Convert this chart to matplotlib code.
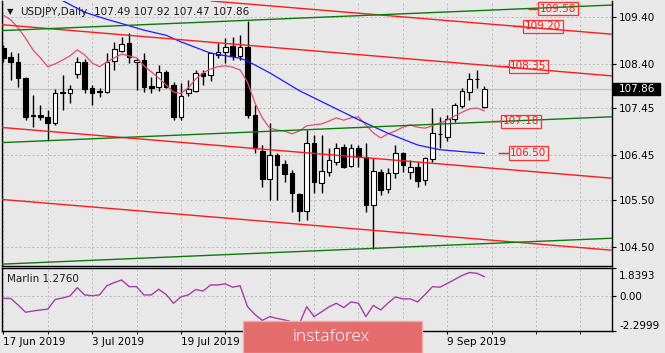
import numpy as np
import matplotlib
matplotlib.use('Agg')
import matplotlib.pyplot as plt
from matplotlib.patches import Rectangle
from matplotlib.transforms import ScaledTranslation, blended_transform_factory

# ── Data ─────────────────────────────────────────────────────
symbol = "USDJPY,Daily"
# labels at bars 36 and 48 sit under the watermark, so they stay blank
date_labels = ['17 Jun 2019', '3 Jul 2019', '19 Jul 2019', '', '', '9 Sep 2019']
date_bars = [0, 12, 24, 36, 48, 60]

opens = [108.74, 108.54, 108.45, 108.09, 107.30, 107.31, 107.27, 107.15, 107.81, 107.77,
         108.18, 108.45, 107.89, 107.82, 107.81, 108.47, 108.68, 108.85, 108.43, 108.48,
         107.93, 107.90, 108.22, 107.95, 107.27, 107.77, 107.83, 108.20, 108.16, 108.60,
         108.65, 108.78, 108.57, 108.77, 107.31, 106.55, 105.94, 106.46, 106.27, 106.08,
         105.63, 105.27, 106.71, 105.87, 106.09, 106.31, 106.63, 106.22, 106.60, 106.42,
         105.39, 106.10, 105.73, 106.08, 106.49, 106.10, 106.21, 105.92, 106.37, 106.91,
         106.85, 107.22, 107.50, 107.81, 108.08, 107.49]
highs = [108.80, 108.66, 108.63, 108.13, 107.74, 107.52, 107.42, 107.86, 108.16, 107.95,
         108.55, 108.50, 107.95, 107.88, 108.63, 108.87, 108.98, 109.05, 108.52, 108.63,
         108.13, 108.38, 108.27, 108.02, 108.00, 108.06, 108.28, 108.28, 108.66, 108.84,
         108.95, 108.98, 109.02, 109.32, 107.52, 106.67, 107.13, 106.49, 106.35, 106.14,
         105.64, 106.99, 106.88, 106.88, 106.60, 106.72, 106.69, 106.69, 106.67, 106.71,
         106.39, 106.15, 106.17, 106.67, 106.53, 106.35, 106.31, 106.41, 107.45, 107.27,
         107.31, 107.57, 107.88, 108.20, 108.27, 107.92]
lows = [108.44, 108.06, 107.91, 107.20, 107.05, 107.20, 106.78, 107.10, 107.42, 107.56,
        108.09, 107.77, 107.52, 107.70, 107.79, 108.27, 108.66, 108.41, 107.84, 107.81,
        107.79, 107.83, 107.88, 107.20, 107.20, 107.72, 107.81, 107.95, 108.04, 108.52,
        108.41, 108.48, 108.48, 107.24, 106.49, 105.78, 105.50, 105.50, 105.89, 105.25,
        105.04, 105.07, 105.65, 105.65, 106.02, 106.24, 106.17, 106.20, 106.21, 105.25,
        104.45, 105.60, 105.65, 105.96, 106.10, 105.94, 105.78, 105.82, 106.31, 106.60,
        106.76, 107.17, 107.45, 107.63, 107.88, 107.47]
closes = [108.53, 108.43, 108.09, 107.26, 107.29, 107.27, 107.15, 107.77, 107.77, 107.86,
          108.43, 107.86, 107.79, 107.81, 108.45, 108.71, 108.82, 108.54, 108.48, 107.90,
          107.88, 108.22, 107.91, 107.26, 107.72, 107.86, 108.20, 108.15, 108.63, 108.66,
          108.77, 108.57, 108.77, 107.31, 106.60, 105.94, 106.46, 106.24, 106.05, 105.65,
          105.27, 106.72, 105.89, 106.12, 106.35, 106.61, 106.21, 106.61, 106.42, 105.39,
          106.12, 105.71, 106.08, 106.51, 106.24, 106.21, 105.91, 106.39, 106.92, 106.90,
          107.22, 107.52, 107.83, 108.07, 108.07, 107.86]

# fast moving average (crimson), one value per bar
ma_fast = [109.44, 109.34, 109.17, 108.95, 108.70, 108.53, 108.34, 108.40, 108.48, 108.57,
           108.70, 108.59, 108.42, 108.34, 108.44, 108.53, 108.61, 108.57, 108.53, 108.36,
           108.23, 108.10, 107.95, 107.80, 107.77, 107.89, 108.08, 108.21, 108.29, 108.34,
           108.36, 108.33, 108.27, 108.01, 107.57, 107.25, 107.03, 106.99, 106.97, 106.91,
           106.97, 107.08, 107.10, 107.12, 107.18, 107.25, 107.20, 107.25, 107.27, 107.10,
           106.93, 106.82, 106.91, 106.97, 107.05, 107.10, 107.05, 107.03, 107.08, 107.14,
           107.20, 107.29, 107.37, 107.44, 107.46, 107.40]

# slow moving average (blue), sampled bars
ma_slow_bars = [7, 8, 11, 14, 16, 19, 22, 24, 28, 32, 33, 36, 40, 44, 48, 52, 56, 59, 62, 65]
ma_slow = [109.88, 109.75, 109.50, 109.35, 109.26, 109.12, 109.01, 108.87, 108.63, 108.52,
           108.46, 108.21, 107.83, 107.52, 107.21, 106.92, 106.67, 106.57, 106.53, 106.49]

marlin = [-0.14, -0.15, -0.58, -1.06, -0.98, -0.91, -0.86, -0.22, -0.12, 0.01,
          0.56, 0.08, 0.03, 0.08, 0.69, 0.90, 1.07, 0.63, 0.63, 0.08,
          0.08, 0.46, 0.11, -0.47, -0.05, 0.08, 0.44, 0.34, 0.74, 0.74,
          0.81, 0.59, 0.69, -0.69, -1.21, -1.60, -1.35, -1.47, -1.57, -1.70,
          -1.83, -0.69, -1.35, -1.04, -0.71, -0.47, -0.75, -0.38, -0.47, -1.35,
          -0.61, -0.91, -0.45, -0.05, -0.18, -0.18, -0.38, 0.11, 0.63, 0.59,
          0.84, 1.10, 1.37, 1.56, 1.51, 1.29]
marlin_name = "Marlin 1.2760"

price_ticks = [109.40, 108.40, 107.45, 106.45, 105.50, 104.50]
marlin_ticks = [1.8393, 0.00, -2.2999]
marlin_tick_labels = ['1.8393', '0.00', '-2.2999']

# channel lines: (bar0, price0, bar1, price1)
red_lines = [(50.9, 109.443, 82.4, 109.031),
             (-0.45, 109.240, 82.4, 108.142),
             (-0.45, 107.048, 82.4, 105.961),
             (-0.45, 105.513, 82.4, 104.426)]
green_lines = [(-0.45, 109.108, 82.4, 109.656),
               (-0.45, 106.720, 82.4, 107.274),
               (-0.45, 104.129, 82.4, 104.684)]

level_values = [109.58, 109.20, 108.35, 107.18, 106.50]
level_bars = [72.5, 70.5, 68.5, 67.5, 68.5]

bid = closes[-1]

# ── Style ────────────────────────────────────────────────────
BG = '#e8e8e8'
GRID = '#bdbdbd'
RED = '#ff1a1a'
GREEN = '#0a7a0a'
plt.rcParams['font.family'] = 'DejaVu Sans'
plt.rcParams['font.size'] = 7.5

W, H = 665, 353
fig = plt.figure(figsize=(W / 100, H / 100), dpi=100, facecolor=BG)

ax = fig.add_axes([2 / W, 1 - 266 / H, 610 / W, 265 / H], facecolor=BG)
ax2 = fig.add_axes([2 / W, 1 - 331 / H, 610 / W, (331 - 268.3) / H], facecolor=BG, sharex=ax)

bars = np.arange(len(opens))
o = np.array(opens); c = np.array(closes)

# ── Main panel ───────────────────────────────────────────────
ax.axhline(bid, color='#c4c4c4', lw=1, zorder=1)

up = c >= o
ax.vlines(bars, lows, highs, color='black', lw=1, zorder=2)
ax.bar(bars, np.abs(c - o), bottom=np.minimum(o, c), width=0.62,
       color=np.where(up, 'white', 'black'), edgecolor='black', lw=0.8, zorder=2.5)

ax.plot(bars, ma_fast, color='#e0506a', lw=0.9, zorder=3)
ax.plot(ma_slow_bars, ma_slow, color='#1a1aff', lw=0.9, zorder=3)

for b0, p0, b1, p1 in red_lines:
    ax.axline((b0, p0), (b1, p1), color=RED, lw=1, zorder=4)
for b0, p0, b1, p1 in green_lines:
    ax.axline((b0, p0), (b1, p1), color=GREEN, lw=1, zorder=4)

# price labels with short lead-in lines
lb = np.array(level_bars)
ax.hlines(level_values, lb - 1.6, lb - 0.2, color=RED, lw=1, zorder=5)
for b, v in zip(level_bars, level_values):
    ax.text(b, v, f'{v:.2f}', color=RED, ha='left', va='center', zorder=6,
            bbox=dict(boxstyle='square,pad=0.15', fc='none', ec='#ff3030', lw=0.9))

ax.set_xlim(-0.176, 82.257)
ax.set_ylim(104.091, 109.741)
ax.yaxis.tick_right()
ax.set_yticks(price_ticks)
ax.set_yticklabels([f'{t:.2f}' for t in price_ticks])
ax.tick_params(axis='y', length=3, width=0.8, pad=2.2, colors='black')
ax.tick_params(axis='x', length=0, labelbottom=False)
ax.set_xticks(np.arange(0, 83, 6), minor=True)
ax.tick_params(axis='x', which='minor', length=0)
ax.grid(axis='x', which='both', color=GRID, ls=(0, (2.2, 2.2)), lw=0.7, zorder=0)
ax.grid(axis='y', which='major', color=GRID, ls=(0, (2.2, 2.2)), lw=0.7, zorder=0)
ax.spines['top'].set_visible(False)
for s in ['left', 'right', 'bottom']:
    ax.spines[s].set_linewidth(1)

# current price box on the scale
tr = blended_transform_factory(ax.transAxes, ax.transData)
ax.add_patch(Rectangle((1.0016, bid - 0.128), 0.0771, 0.256, transform=tr,
                       fc='black', ec='black', clip_on=False, zorder=10))
ax.text(1.0115, bid, f'{bid:.2f}', transform=tr, color='white', ha='left', va='center',
        clip_on=False, zorder=11)

# ── Marlin panel ─────────────────────────────────────────────
ax2.plot(bars, marlin, color='#a83ca8', lw=1, zorder=3)
ax2.set_ylim(-2.2999, 1.8393)
ax2.yaxis.tick_right()
ax2.set_yticks(marlin_ticks)
ax2.set_yticklabels(marlin_tick_labels)
ax2.tick_params(axis='y', length=3, width=0.8, pad=2.2, colors='black')
ylabels = ax2.get_yticklabels()
ylabels[0].set_va('top')
ylabels[0].set_transform(ylabels[0].get_transform() + ScaledTranslation(0, -3 / 100, fig.dpi_scale_trans))
ylabels[2].set_va('bottom')
ax2.set_xticks(date_bars)
ax2.set_xticklabels(date_labels, ha='left')
ax2.tick_params(axis='x', length=2, width=0.8, pad=2)
ax2.grid(axis='x', which='both', color=GRID, ls=(0, (2.2, 2.2)), lw=0.7, zorder=0)
ax2.grid(axis='y', which='major', color=GRID, ls=(0, (2.2, 2.2)), lw=0.7, zorder=0)
for s in ax2.spines.values():
    s.set_linewidth(1)

# ── Header texts ─────────────────────────────────────────────
ty = 1 - 12 / H
fig.text(7 / W, ty, '▼', fontsize=6, va='center', color='#1a1a1a')
fig.text(20 / W, ty, symbol, va='center', color='#1a1a1a')
fig.text(94 / W, ty, f'{opens[-1]:.2f} {highs[-1]:.2f} {lows[-1]:.2f} {closes[-1]:.2f}',
         va='center', color='#1a1a1a')
fig.text(7 / W, 1 - 279 / H, marlin_name, va='center', color='#1a1a1a')

# ── Watermark banner ─────────────────────────────────────────
fig.add_artist(Rectangle((243 / W, 0), 179 / W, 32 / H, transform=fig.transFigure,
                         fc='#e46c6c', ec='#f0a8a8', lw=1, zorder=20))
fig.text(331 / W, 1 - 337 / H, 'instaforex', color='white', fontsize=12.5,
         family='Open Sans', weight='light', ha='center', va='center', zorder=21)

fig.savefig('out.png', dpi=100, facecolor=BG)
print("saved out.png")
